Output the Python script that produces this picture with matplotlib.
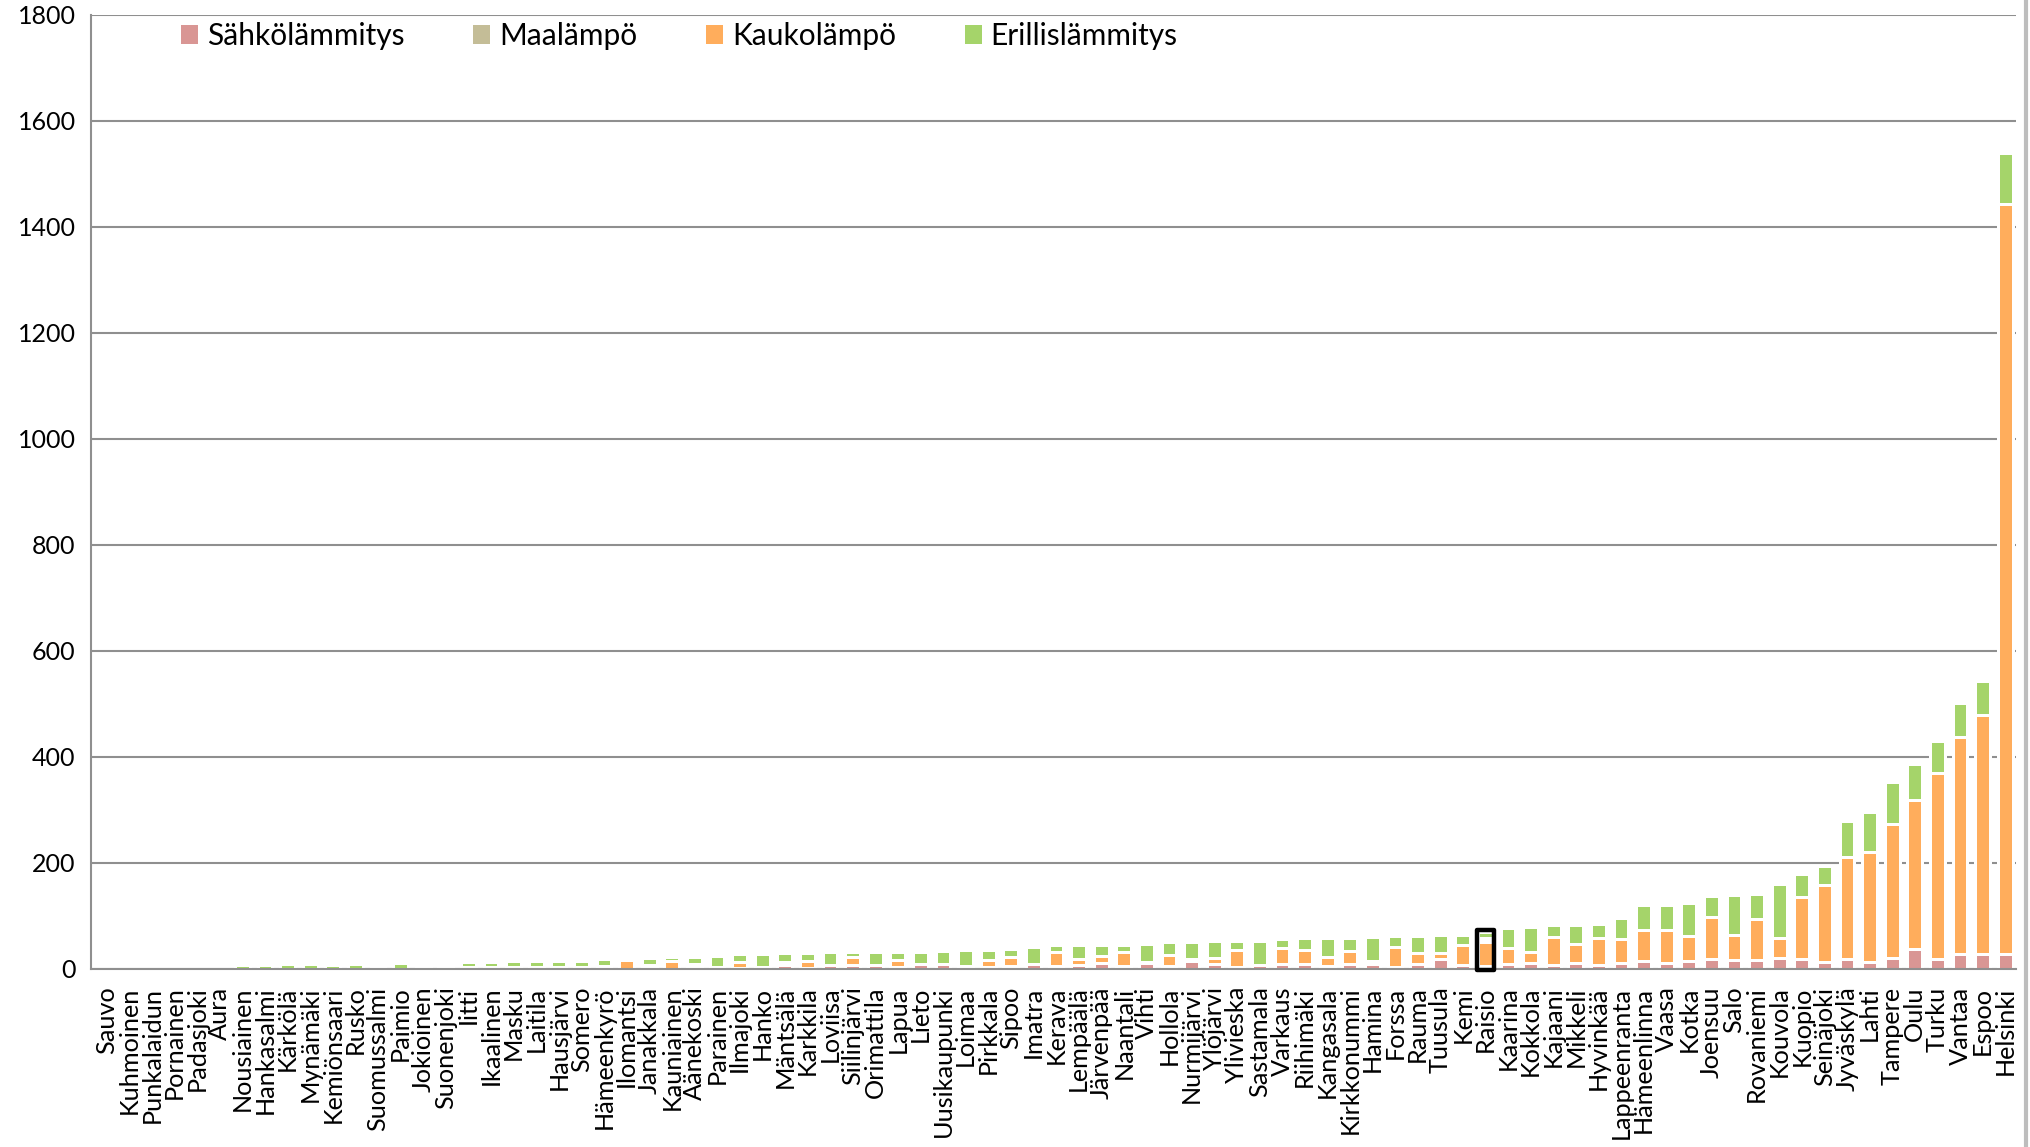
import numpy as np
import matplotlib.pyplot as plt
from matplotlib.patches import Patch, Rectangle
from matplotlib.lines import Line2D

plt.rcParams['font.family'] = ['Lato', 'DejaVu Sans']

# Kunnat (pienimmästä suurimpaan)
kunnat = ['Sauvo', 'Kuhmoinen', 'Punkalaidun', 'Pornainen', 'Padasjoki', 'Aura', 'Nousiainen', 'Hankasalmi', 'Kärkölä', 'Mynämäki',
          'Kemiönsaari', 'Rusko', 'Suomussalmi', 'Paimio', 'Jokioinen', 'Suonenjoki', 'Iitti', 'Ikaalinen', 'Masku', 'Laitila',
          'Hausjärvi', 'Somero', 'Hämeenkyrö', 'Ilomantsi', 'Janakkala', 'Kauniainen', 'Äänekoski', 'Parainen', 'Ilmajoki', 'Hanko',
          'Mäntsälä', 'Karkkila', 'Loviisa', 'Siilinjärvi', 'Orimattila', 'Lapua', 'Lieto', 'Uusikaupunki', 'Loimaa', 'Pirkkala',
          'Sipoo', 'Imatra', 'Kerava', 'Lempäälä', 'Järvenpää', 'Naantali', 'Vihti', 'Hollola', 'Nurmijärvi', 'Ylöjärvi',
          'Ylivieska', 'Sastamala', 'Varkaus', 'Riihimäki', 'Kangasala', 'Kirkkonummi', 'Hamina', 'Forssa', 'Rauma', 'Tuusula',
          'Kemi', 'Raisio', 'Kaarina', 'Kokkola', 'Kajaani', 'Mikkeli', 'Hyvinkää', 'Lappeenranta', 'Hämeenlinna', 'Vaasa',
          'Kotka', 'Joensuu', 'Salo', 'Rovaniemi', 'Kouvola', 'Kuopio', 'Seinäjoki', 'Jyväskylä', 'Lahti', 'Tampere',
          'Oulu', 'Turku', 'Vantaa', 'Espoo', 'Helsinki']

sahko = [0, 0, 0, 0, 0, 0, 0, 0, 0, 0,
         0, 0, 2, 0, 3, 4, 2, 2, 2, 2.5,
         3, 3, 5, 0, 3, 0, 3, 3.5, 1.5, 3.5,
         6.9, 1.5, 7, 7, 6, 2.9, 8.3, 8, 4.2, 3.2,
         4.7, 9.2, 4.7, 6.5, 10, 4.2, 10, 5.2, 15, 7.9,
         2.9, 6.9, 7.9, 7.9, 5.2, 8.9, 8.5, 2.9, 8, 18.2,
         5.9, 5.2, 7.9, 10, 6.2, 10.2, 7.5, 10.8, 13.3, 9.5,
         13.3, 17.5, 15.3, 16.5, 20.6, 18.7, 12, 18.7, 12.7, 20,
         36.5, 18.7, 28.2, 28, 26.6]

maa = [0, 0, 0, 0, 0, 0, 0, 0, 0, 0,
       0, 0, 0, 0, 0, 0, 0, 0, 0, 0,
       0, 0, 0, 0, 0, 0, 0, 0, 0, 0,
       0, 0, 0, 0, 0, 0, 0, 0, 0, 0,
       0, 0, 0, 0, 0, 0, 0, 0, 0, 0,
       0, 0, 0, 0, 0, 0, 0, 0, 0, 0,
       0, 0, 0, 0, 0, 0, 0, 0, 0, 0,
       0, 0, 0, 0, 0, 0, 0, 0, 0, 0,
       0, 0, 0, 0, 0]

kauko = [0, 0, 0, 0, 0, 0, 0, 0, 0, 0,
         0, 0, 0, 0, 3, 3, 0, 0, 0, 0,
         0, 0, 0, 15.5, 3, 14.8, 6, 0, 10.5, 0,
         0, 13.3, 0, 15.5, 0, 12.4, 0, 0, 0, 13.5,
         17.8, 0, 25.6, 12, 14.5, 26.3, 0, 20.5, 0, 12.4,
         32.5, 0, 31.6, 27.5, 17.3, 24.6, 6.3, 37.5, 20.5, 12,
         37.6, 45.7, 30.6, 20.4, 52.6, 36.5, 50, 45.1, 58.7, 62.5,
         47.7, 79.4, 47.3, 76.2, 37.2, 117.2, 144.8, 191.2, 207, 253.7,
         281, 349.5, 408.3, 449.7, 1417.4]

# valkoinen väli (ei selitteessä)
muu = [0, 0, 0, 0, 0, 0, 0, 0, 0, 0,
       0, 0, 0, 0, 0, 0, 0, 0, 0, 0,
       0, 0, 0, 0, 0, 0, 0, 0, 0, 0,
       4.8, 0, 0, 0, 0, 0, 0, 0, 0, 0,
       0, 0, 0, 0, 0, 0, 3, 0, 2, 0,
       0, 0, 0, 0, 0, 0, 0, 0, 0, 0,
       0, 6, 0, 0, 0, 0, 0, 0, 0, 0,
       0, 0, 0, 0, 0, 0, 0, 0, 0, 0,
       0, 0, 0, 0, 0]

eri = [0, 0, 0, 0, 0, 0, 6.5, 6.5, 7.8, 8,
       7, 9, 7, 9.8, 4, 6, 11, 11, 11.5, 11,
       11, 12, 13.5, 0, 14.5, 6.5, 13.3, 20, 15.3, 24.3,
       17.2, 14, 23.4, 7.9, 24.8, 16.5, 23.5, 24.3, 30, 18.1,
       14.9, 31.3, 13.5, 25.3, 20.3, 14.3, 33.8, 24.1, 33.8, 32.1,
       17, 45.9, 16.3, 22.1, 35, 24.3, 44.6, 20.9, 33.3, 32.6,
       20.3, 12, 37.8, 47.4, 22.6, 34.8, 27.3, 40.2, 47.6, 47.6,
       62.5, 39.3, 76.1, 47.9, 101.9, 42.9, 37.2, 69.1, 76.5, 77.7,
       68.8, 60.7, 64.8, 64.2, 95.5]

korostus = 'Raisio'

sarjat = [('Sähkölämmitys', sahko, '#D99694'),
          ('Maalämpö', maa, '#C4BD97'),
          ('Kaukolämpö', kauko, '#FFAD5C'),
          (None, muu, '#FFFFFF'),
          ('Erillislämmitys', eri, '#A5D46A')]

fig = plt.figure(figsize=(20.31, 11.47), dpi=100)
ax = fig.add_axes([91 / 2031, 1 - 968.5 / 1147, (2016.5 - 91) / 2031, (968.5 - 15) / 1147])

x = np.arange(len(kunnat))
pohja = np.zeros(len(kunnat))
for nimi, arvot, vari in sarjat:
    ax.bar(x, arvot, 0.66, bottom=pohja, color=vari, edgecolor='white', linewidth=2.16, zorder=2)
    pohja += np.array(arvot)

# korostettu kunta
i = kunnat.index(korostus)
ax.add_patch(Rectangle((i - 0.37, -2), 0.74, pohja[i] + 5, fill=False, edgecolor='black',
                       linewidth=3.2, joinstyle='round', zorder=4, clip_on=False))

ax.set_xlim(-0.7, 84.5)
ax.set_ylim(0, 1800)
ax.set_yticks(np.arange(0, 1801, 200))
ax.tick_params(axis='y', length=0, labelsize=18, pad=11)
ax.set_xticks(x)
ax.set_xticklabels(kunnat, rotation=90, fontsize=18.2, va='top', ha='center')
ax.tick_params(axis='x', length=0, pad=13)

ax.grid(axis='y', color='#8F8F8F', linewidth=1.5, zorder=0)
ax.set_axisbelow(True)
for s in ['top', 'right']:
    ax.spines[s].set_visible(False)
for s in ['left', 'bottom']:
    ax.spines[s].set_color('#8F8F8F')
    ax.spines[s].set_linewidth(1.5)

kahvat = [Patch(facecolor=v, edgecolor='none', label=n) for n, a, v in sarjat if n]
fig.legend(handles=kahvat, loc='center left', bbox_to_anchor=(181 / 2031, 0.9686), ncol=4,
           frameon=False, fontsize=21.5, handlelength=0.57, handleheight=0.57,
           handletextpad=0.3, columnspacing=2.3, borderpad=0, borderaxespad=0)

# harmaa reuna oikealla
fig.add_artist(Line2D([2026 / 2031, 2026 / 2031], [0, 1], color='#BDBDBD', linewidth=3))

fig.savefig('out.png', dpi=100)
